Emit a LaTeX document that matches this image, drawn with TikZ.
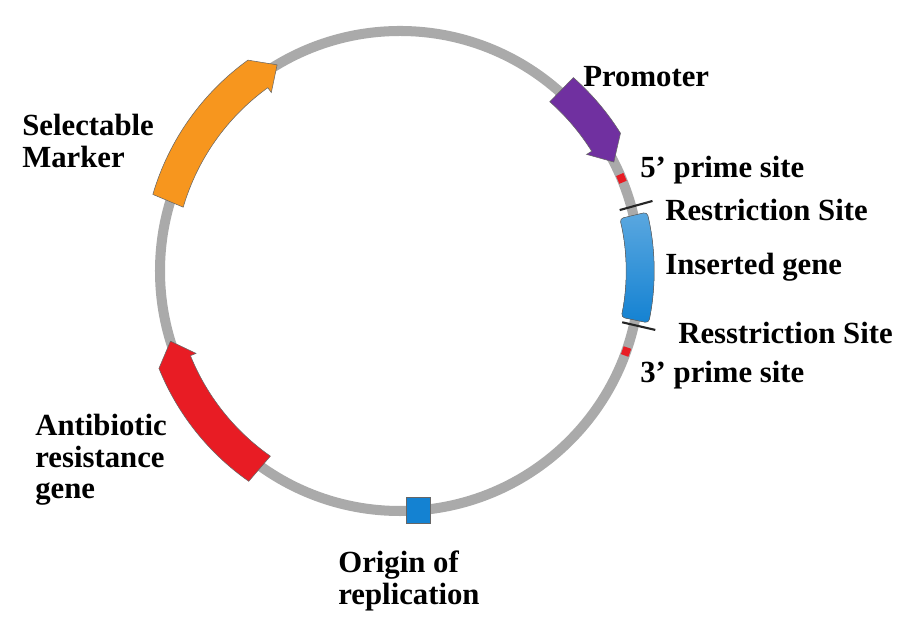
\documentclass[tikz,border=0pt]{standalone}
\usepackage{fontspec}
\setmainfont{Liberation Serif}
\definecolor{ringgray}{RGB}{170,170,170}
\definecolor{promcol}{RGB}{112,48,160}
\definecolor{markcol}{RGB}{247,150,30}
\definecolor{abcol}{RGB}{232,28,36}
\definecolor{genecol}{RGB}{20,130,210}
\tikzset{
  lbl/.style={font=\fontsize{17.5}{18}\selectfont\bfseries, anchor=west, align=left, inner sep=0pt},
  gene/.style={draw=black!60, line width=0.3pt},
  tick/.style={draw=black!85, line width=1.2pt},
}
% clockwise arc arrow: start angle, end angle, colour
\newcommand\plasarrow[3]{%
  \pgfmathsetmacro\hb{#2+5}
  \filldraw[gene, fill=#3] (#1:226) arc[start angle=#1, end angle=\hb, radius=226]
    -- (\hb:220) -- (#2:240) -- (\hb:260)
    arc[start angle=\hb, end angle=#1, radius=254] -- cycle;}
\begin{document}
\begin{tikzpicture}[x=0.02cm, y=0.02cm]
\useasboundingbox (0,0) rectangle (922,638);
\begin{scope}[shift={(400,367)}]
\coordinate (c) at (0,0);
\draw[ringgray, line width=5.7pt] (c) circle[radius=240];
\plasarrow{48.5}{27}{promcol}
\plasarrow{163.6}{120.8}{markcol}
\plasarrow{-125}{-163}{abcol}
% inserted gene
\filldraw[gene, top color=genecol!70, bottom color=genecol, rounded corners=2pt]
  (13.4:226) arc[start angle=13.4, end angle=-11.8, radius=226]
  -- (-11.8:254) arc[start angle=-11.8, end angle=13.4, radius=254] -- cycle;
% restriction sites
\draw[tick] (15.5:228) -- (15.5:262);
\draw[tick] (-13:228) -- (-13:262);
% prime sites
\draw[abcol, line width=4.5pt] (23.7:240) arc[start angle=23.7, end angle=21.7, radius=240];
\draw[abcol, line width=4.5pt] (-18.6:240) arc[start angle=-18.6, end angle=-20.6, radius=240];
% origin
\filldraw[gene, fill=genecol] (-85.7:240) ++(-12,-13) rectangle ++(24,26);
\end{scope}
\node[lbl] (prom) at (583,561) {Promoter};
\node[lbl] (five) at (640,468) {5' prime site};
\node[lbl] (rs1) at (665,428) {Restriction Site};
\node[lbl] (ins) at (665,371) {Inserted gene};
\node[lbl] (rs2) at (678,305) {Resstriction Site};
\node[lbl] (three) at (640,263) {3' prime site};
\node[lbl] (sel) at (22,497) {Selectable\\Marker};
\node[lbl] (anti) at (35,178) {Antibiotic\\resistance\\gene};
\node[lbl] (ori) at (338,57) {Origin of\\replication};
\end{tikzpicture}
\end{document}
